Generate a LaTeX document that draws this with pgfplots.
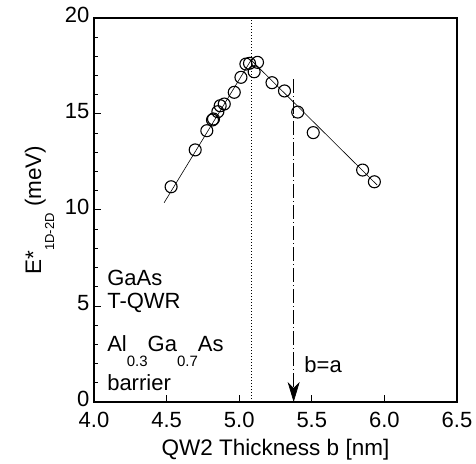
\documentclass[border=0pt]{standalone}
\usepackage{fontspec}
\setmainfont{Liberation Sans}
\usepackage{pgfplots}
\pgfplotsset{compat=1.18}
\usetikzlibrary{arrows.meta}
\begin{document}
\begin{tikzpicture}
\begin{axis}[
  scale only axis,
  width=363pt, height=384pt,
  xmin=4.0, xmax=6.5, ymin=0, ymax=20,
  xtick={4.0,4.5,5.0,5.5,6.0,6.5},
  xticklabels={4.0,4.5,5.0,5.5,6.0,6.5},
  ytick={0,5,10,15,20},
  minor ytick={1,2,3,4,6,7,8,9,11,12,13,14,16,17,18,19},
  xtick pos=bottom, ytick pos=left,
  tick align=inside,
  major tick length=7pt, minor tick length=4pt,
  axis line style={line width=1.2pt},
  every tick/.style={line width=1pt, black},
  /pgf/number format/assume math mode=true,
  tick label style={font=\fontsize{22}{24}\selectfont},
  xticklabel style={yshift=-7pt},
  yticklabel style={yshift=3pt, xshift=-1pt},
  label style={font=\fontsize{22.5}{26}\selectfont},
  xlabel={QW2 Thickness b [nm]},
  ylabel={E*\raisebox{-13pt}{\fontsize{13}{13}\selectfont 1D-2D} (meV)},
  xlabel style={yshift=-4pt},
  ylabel style={yshift=4pt},
  clip=false,
]
% fit lines
\addplot[black, line width=0.6pt] coordinates {(4.483,10.38) (5.082,17.81) (5.95,11.3)};
% dotted vertical line
\addplot[black, line width=0.6pt, dash pattern=on 1pt off 2pt] coordinates {(5.081,0) (5.081,20)};
% dash-dot with arrow
\addplot[black, line width=0.7pt, dash pattern=on 14pt off 3pt on 1pt off 3pt,
  -{Stealth[length=20pt, width=12pt, inset=6pt]}] coordinates {(5.375,16.8) (5.375,0)};
% data
\addplot[only marks, mark=o, mark size=6pt, black, line width=1.1pt] coordinates {
(4.531,11.21) (4.697,13.13) (4.777,14.13) (4.816,14.69) (4.823,14.74)
(4.853,15.12) (4.869,15.43) (4.897,15.52) (4.966,16.13) (5.012,16.91)
(5.046,17.60) (5.071,17.64) (5.126,17.69) (5.103,17.20) (5.226,16.63)
(5.312,16.20) (5.403,15.10) (5.510,14.03) (5.850,12.08) (5.931,11.47)
};
\node[anchor=base west, font=\fontsize{22}{26}\selectfont, inner sep=0pt] at (axis cs:4.09,6.09) {GaAs};
\node[anchor=base west, font=\fontsize{22}{26}\selectfont, inner sep=0pt] at (axis cs:4.09,4.88) {T-QWR};
\node[anchor=base west, font=\fontsize{22}{26}\selectfont, inner sep=0pt] at (axis cs:4.09,2.62) {Al\raisebox{-15pt}{\fontsize{15}{15}\selectfont 0.3}Ga\raisebox{-15pt}{\fontsize{15}{15}\selectfont 0.7}As};
\node[anchor=base west, font=\fontsize{22}{26}\selectfont, inner sep=0pt] at (axis cs:4.09,0.59) {barrier};
\node[anchor=base west, font=\fontsize{22}{26}\selectfont, inner sep=0pt] at (axis cs:5.448,1.55) {b=a};
\end{axis}
\pgfresetboundingbox
\path (current axis.south west) -- ++(-94pt,-61pt);
\path (current axis.north east) -- ++(19pt,18pt);
\end{tikzpicture}
\end{document}
